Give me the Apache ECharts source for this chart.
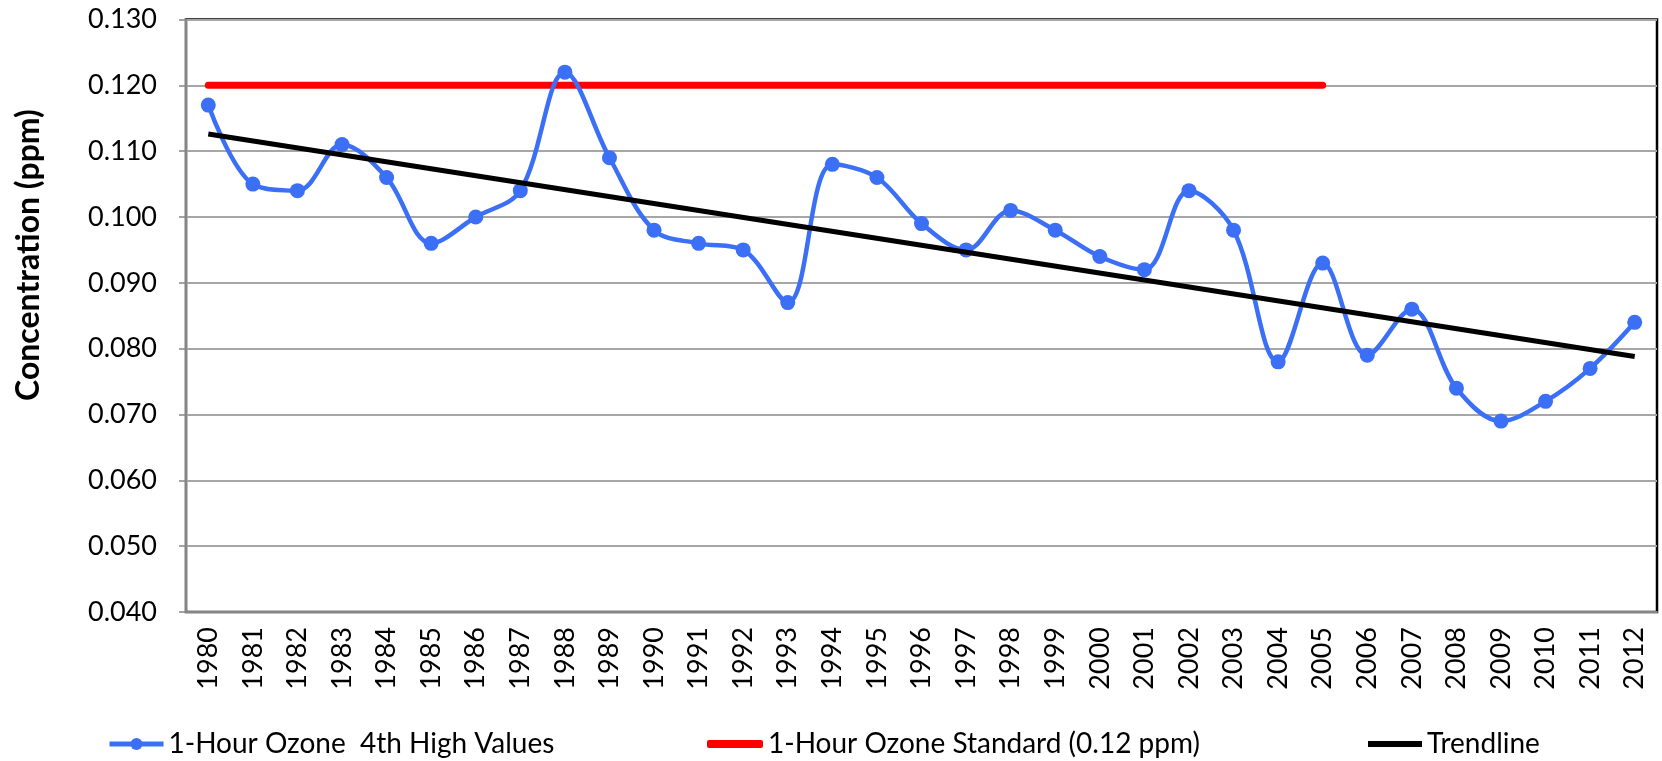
<!DOCTYPE html>
<html lang="en">
<head>
  <meta charset="UTF-8">
  <title>1-Hour Ozone</title>
  <script src="https://cdn.jsdelivr.net/npm/echarts@6/dist/echarts.min.js"></script>
  <style>
    html, body { margin: 0; padding: 0; background: #fff; }
    #main { width: 1662px; height: 761px; }
  </style>
</head>
<body>
  <div id="main"></div>
  <script type="text/javascript">
    // years on the x axis
    var years = ['1980', '1981', '1982', '1983', '1984', '1985', '1986', '1987', '1988', '1989',
      '1990', '1991', '1992', '1993', '1994', '1995', '1996', '1997', '1998', '1999',
      '2000', '2001', '2002', '2003', '2004', '2005', '2006', '2007', '2008', '2009',
      '2010', '2011', '2012'];
    // 4th high values (ppm)
    var fourthHigh = [0.117, 0.105, 0.104, 0.111, 0.106, 0.096, 0.100, 0.104, 0.122, 0.109,
      0.098, 0.096, 0.095, 0.087, 0.108, 0.106, 0.099, 0.095, 0.101, 0.098,
      0.094, 0.092, 0.104, 0.098, 0.078, 0.093, 0.079, 0.086, 0.074, 0.069,
      0.072, 0.077, 0.084];
    // standard line, drawn 1980 - 2005
    var standard = [0.12, 0.12, 0.12, 0.12, 0.12, 0.12, 0.12, 0.12, 0.12, 0.12,
      0.12, 0.12, 0.12, 0.12, 0.12, 0.12, 0.12, 0.12, 0.12, 0.12,
      0.12, 0.12, 0.12, 0.12, 0.12, 0.12, null, null, null, null,
      null, null, null];
    // trendline end points
    var trend = [0.1126, null, null, null, null, null, null, null, null, null,
      null, null, null, null, null, null, null, null, null, null,
      null, null, null, null, null, null, null, null, null, null,
      null, null, 0.0788];
    var yTicks = { min: 0.04, max: 0.13, interval: 0.01 };

    var FONT = 'Lato';
    var names = ['1-Hour Ozone  4th High Values', '1-Hour Ozone Standard (0.12 ppm)', 'Trendline'];

    // one legend per entry so each sits where it does in the original
    function legendFor(item, left, w, h) {
      return {
        data: [item],
        left: left,
        top: 725,
        itemWidth: w,
        itemHeight: h,
        selectedMode: false,
        lineStyle: { width: 5 },
        textStyle: { fontFamily: FONT, fontSize: 28, color: '#000' }
      };
    }

    var myChart = echarts.init(document.getElementById('main'));
    var option = {
      animation: false,
      backgroundColor: '#fff',
      grid: {
        left: 186, right: 5, top: 19.5, bottom: 149,
        show: true, borderColor: '#000', borderWidth: 2.5
      },
      legend: [
        legendFor(names[0], 102, 54, 15),
        legendFor({ name: names[1], icon: 'roundRect' }, 702, 56, 8),
        legendFor({ name: names[2], icon: 'rect' }, 1363, 54, 6)
      ],
      graphic: [{
        type: 'text',
        x: 29, y: 255,
        rotation: Math.PI / 2,
        style: {
          text: 'Concentration (ppm)',
          font: 'bold 32px ' + FONT,
          fill: '#000',
          textAlign: 'center',
          textVerticalAlign: 'middle'
        }
      }],
      xAxis: [{
        type: 'category',
        data: years,
        boundaryGap: true,
        axisLine: { lineStyle: { color: '#868686', width: 2 } },
        axisTick: { alignWithLabel: true, length: 8, lineStyle: { color: '#868686', width: 1.5 } },
        axisLabel: {
          rotate: 90, margin: 15, interval: 0,
          fontFamily: FONT, fontSize: 27, color: '#000'
        },
        splitLine: { show: false }
      }, {
        // inner half of the crossing tick marks
        type: 'category',
        data: years,
        position: 'bottom',
        boundaryGap: true,
        axisLine: { show: false },
        axisTick: { alignWithLabel: true, inside: true, length: 8, lineStyle: { color: '#868686', width: 1.5 } },
        axisLabel: { show: false },
        splitLine: { show: false }
      }],
      yAxis: {
        type: 'value',
        min: yTicks.min, max: yTicks.max, interval: yTicks.interval,
        axisLine: { show: true, lineStyle: { color: '#868686', width: 2 } },
        axisTick: { show: true, length: 7, lineStyle: { color: '#868686', width: 1.5 } },
        axisLabel: {
          margin: 29,
          fontFamily: FONT, fontSize: 27, color: '#000',
          formatter: function (v) { return v.toFixed(3); }
        },
        splitLine: { lineStyle: { color: '#a6a6a6', width: 2 } }
      },
      series: [
        {
          name: names[0],
          type: 'line',
          data: fourthHigh,
          smooth: 0.35,
          symbol: 'circle',
          symbolSize: 15,
          color: '#3b6ff5',
          lineStyle: { width: 4.5, color: '#3b6ff5' },
          itemStyle: { color: '#3b6ff5' },
          z: 3
        },
        {
          name: names[1],
          type: 'line',
          data: standard,
          symbol: 'none',
          color: '#ff0000',
          lineStyle: { width: 7, color: '#ff0000', cap: 'round' },
          z: 2
        },
        {
          name: names[2],
          type: 'line',
          data: trend,
          connectNulls: true,
          symbol: 'none',
          color: '#000',
          lineStyle: { width: 5, color: '#000' },
          z: 4
        }
      ]
    };
    myChart.setOption(option, true);
  </script>
</body>
</html>
